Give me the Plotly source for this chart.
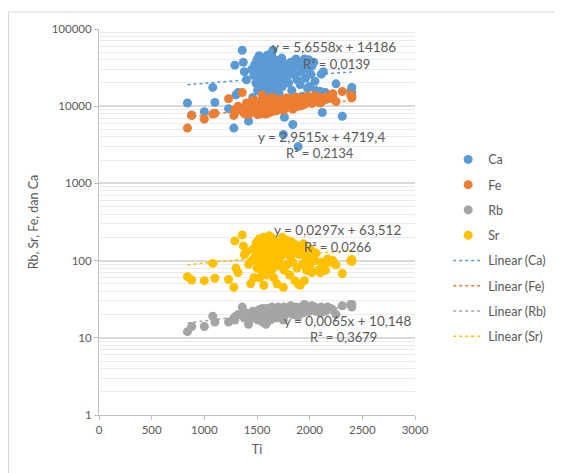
import plotly.graph_objects as go

# Shared Ti values (x) for all samples
ti = [840, 880, 1000, 1080, 1100, 1230, 1280, 1290, 1300, 1320,
      1360, 1370, 1380, 1400, 1420, 1440, 1450, 1460, 1470, 1480,
      1490, 1500, 1505, 1510, 1520, 1525, 1530, 1540, 1545, 1550,
      1555, 1560, 1565, 1570, 1575, 1580, 1585, 1590, 1595, 1600,
      1605, 1610, 1615, 1620, 1625, 1630, 1635, 1640, 1645, 1650,
      1655, 1660, 1665, 1670, 1675, 1680, 1690, 1700, 1705, 1710,
      1720, 1730, 1735, 1740, 1750, 1755, 1760, 1770, 1780, 1790,
      1800, 1810, 1820, 1830, 1840, 1850, 1860, 1870, 1880, 1890,
      1900, 1910, 1920, 1930, 1940, 1950, 1960, 1970, 1980, 1990,
      2000, 2010, 2020, 2040, 2050, 2060, 2080, 2100, 2110, 2120,
      2130, 2150, 2170, 2200, 2220, 2250, 2310, 2390, 2400, 2400]

ca = [11000, 7700, 8500, 17500, 11200, 9300, 5200, 34000, 14000, 15000,
      53000, 37000, 28000, 22000, 6400, 9500, 30000, 13000, 25000, 35000,
      20000, 40000, 16000, 28000, 45000, 22000, 32000, 18000, 38000, 26000,
      14000, 33000, 24000, 42000, 19000, 30000, 36000, 15000, 27000, 46000,
      21000, 34000, 12500, 29000, 39000, 17000, 25000, 44000, 31000, 53000,
      23000, 36000, 16000, 40000, 28000, 20000, 33000, 25000, 38000, 14500,
      30000, 22000, 42000, 18000, 4300, 27000, 7200, 35000, 24000, 31000,
      20000, 28000, 37000, 16000, 5800, 32000, 25000, 41000, 22000, 3000,
      34000, 19000, 28000, 13500, 38000, 41000, 23000, 30000, 17000, 40000,
      18000, 26000, 33000, 37000, 21000, 16000, 14000, 15500, 26000, 8300,
      28000, 15000, 12500, 13500, 13000, 19500, 7400, 15500, 17500, 15000]

fe = [5200, 7600, 6800, 7900, 8100, 12500, 7600, 9000, 8500, 10000,
      15000, 9500, 8000, 11000, 7800, 8200, 9000, 12000, 8500, 9800,
      8800, 10500, 7800, 9200, 11500, 8400, 10000, 8000, 9500, 14000,
      9000, 8300, 12000, 9500, 8700, 10800, 7900, 9300, 11200, 8600,
      10200, 9100, 8200, 12500, 9700, 8900, 11000, 10000, 8500, 13000,
      9400, 11500, 8700, 10300, 9200, 12000, 8800, 10800, 9600, 11300,
      9800, 10600, 9000, 12300, 10000, 8900, 11000, 9500, 12800, 10400,
      11200, 9700, 12500, 10300, 9200, 11800, 10600, 13200, 9900, 11500,
      10800, 12400, 10100, 11600, 13000, 10500, 12200, 11000, 13500, 11800,
      11300, 12800, 10800, 12000, 13800, 11500, 12600, 11000, 13000, 12200,
      11800, 13200, 12500, 13500, 14500, 11500, 15500, 14000, 13500, 12800]

rb = [12, 14, 14, 19, 16, 16, 18, 17, 19, 20,
      25, 22, 18, 21, 15, 19, 20, 22, 18, 21,
      19, 22, 20, 17, 23, 21, 18, 22, 20, 24,
      16, 21, 23, 19, 22, 20, 15, 24, 21, 18,
      22, 19, 24, 21, 17, 23, 20, 25, 18, 22,
      20, 23, 19, 24, 21, 18, 22, 25, 20, 23,
      21, 24, 19, 22, 17, 25, 23, 20, 24, 22,
      23, 21, 26, 22, 20, 24, 21, 25, 23, 19,
      24, 22, 25, 23, 21, 27, 24, 22, 25, 23,
      22, 24, 26, 23, 25, 22, 24, 21, 25, 23,
      24, 22, 25, 24, 23, 20, 26, 27, 27, 25]

sr = [62, 56, 55, 92, 59, 57, 45, 180, 80, 70,
      215, 155, 120, 130, 90, 50, 100, 140, 60, 110,
      170, 80, 130, 95, 190, 60, 150, 110, 75, 160,
      120, 200, 48, 140, 100, 175, 85, 125, 65, 185,
      105, 150, 210, 90, 135, 70, 165, 115, 195, 80,
      145, 60, 120, 180, 95, 155, 50, 130, 170, 100,
      85, 160, 115, 200, 45, 140, 75, 125, 185, 90,
      150, 65, 110, 175, 95, 130, 55, 160, 80, 50,
      120, 48, 145, 90, 165, 55, 110, 75, 130, 95,
      85, 140, 70, 115, 100, 125, 75, 70, 95, 80,
      85, 75, 105, 95, 100, 88, 68, 100, 97, 103]

series_names = ["Ca", "Fe", "Rb", "Sr"]
series_values = [ca, fe, rb, sr]
colors = ["#5B9BD5", "#ED7D31", "#A5A5A5", "#FFC000"]

# Trendline equations shown on the chart (y = a*x + b)
slopes = [5.6558, 2.9515, 0.0065, 0.0297]
intercepts = [14186, 4719.4, 10.148, 63.512]
eq_labels = ["y = 5,6558x + 14186", "y = 2,9515x + 4719,4",
             "y = 0,0065x + 10,148", "y = 0,0297x + 63,512"]
r2_labels = ["R² = 0,0139", "R² = 0,2134", "R² = 0,3679", "R² = 0,0266"]

x_ticks = [0, 500, 1000, 1500, 2000, 2500, 3000]
y_ticks = [1, 10, 100, 1000, 10000, 100000]

fig = go.Figure()

# trendlines (under markers)
xs = sorted(set(ti))
for i, name in enumerate(series_names):
    ys = [slopes[i] * x + intercepts[i] for x in xs]
    fig.add_trace(go.Scatter(
        x=xs, y=ys, mode="lines", name=f"Linear ({name})",
        line=dict(color=colors[i], width=1.5, dash="dot"),
        legendrank=5 + i, legendgroup=f"l{name}"))

for i, name in enumerate(series_names):
    fig.add_trace(go.Scatter(
        x=ti, y=series_values[i], mode="markers", name=name,
        marker=dict(color=colors[i], size=9),
        legendrank=1 + i, legendgroup=f"m{name}"))

txt_color = "#595959"
font_family = "Lato, Open Sans, sans-serif"

# annotation positions (data x, log10 y)
eq_pos = [(2230, 4.762), (2110, 3.605), (2360, 1.222), (2260, 2.400)]
r2_pos = [(2250, 4.543), (2100, 3.390), (2320, 1.006), (2260, 2.172)]
for i in range(4):
    fig.add_annotation(x=eq_pos[i][0], y=eq_pos[i][1], text=eq_labels[i],
                       showarrow=False, font=dict(size=13.5, color=txt_color))
    fig.add_annotation(x=r2_pos[i][0], y=r2_pos[i][1], text=r2_labels[i],
                       showarrow=False, font=dict(size=13, color=txt_color))

minor_vals = [m * 10 ** k for k in range(0, 5) for m in range(2, 10)]

# page has an 8px body margin, so the figure is sized/offset to compensate
fig.update_layout(
    width=555, height=465,
    margin=dict(l=91, r=148, t=21, b=58),
    paper_bgcolor="white", plot_bgcolor="white",
    font=dict(family=font_family, size=11.5, color=txt_color),
    showlegend=True,
    legend=dict(x=1.105, y=0.70, xanchor="left", yanchor="top",
                font=dict(size=12.5, color=txt_color),
                tracegroupgap=6, bgcolor="rgba(0,0,0,0)"),
    xaxis=dict(range=[0, 3000], tickvals=x_ticks, ticktext=[str(v) for v in x_ticks],
               showgrid=False, zeroline=False, showline=True, linecolor="#BFBFBF",
               ticks="outside", ticklen=4, tickcolor="#BFBFBF",
               title=dict(text="Ti", font=dict(size=12.5, color=txt_color), standoff=10)),
    yaxis=dict(type="log", range=[0, 5], tickvals=y_ticks, ticktext=[str(v) for v in y_ticks],
               showgrid=True, gridcolor="#D9D9D9", gridwidth=1.5, zeroline=False,
               showline=True, linecolor="#BFBFBF",
               ticks="outside", ticklen=4, tickcolor="#BFBFBF",
               minor=dict(tickvals=minor_vals, showgrid=True, gridcolor="#EBEBEB",
                          ticks="", gridwidth=1),
               title=dict(text="Rb, Sr, Fe, dan Ca", font=dict(size=12.5, color=txt_color), standoff=10)),
    shapes=[dict(type="rect", xref="paper", yref="paper",
                 x0=(8.5 - 99) / 316, x1=(561 - 99) / 316,
                 y0=(415 - 480) / 386, y1=(415 - 12) / 386,
                 line=dict(color="#D9D9D9", width=1), fillcolor="rgba(0,0,0,0)",
                 layer="below")],
)

fig.write_html("out.html")
